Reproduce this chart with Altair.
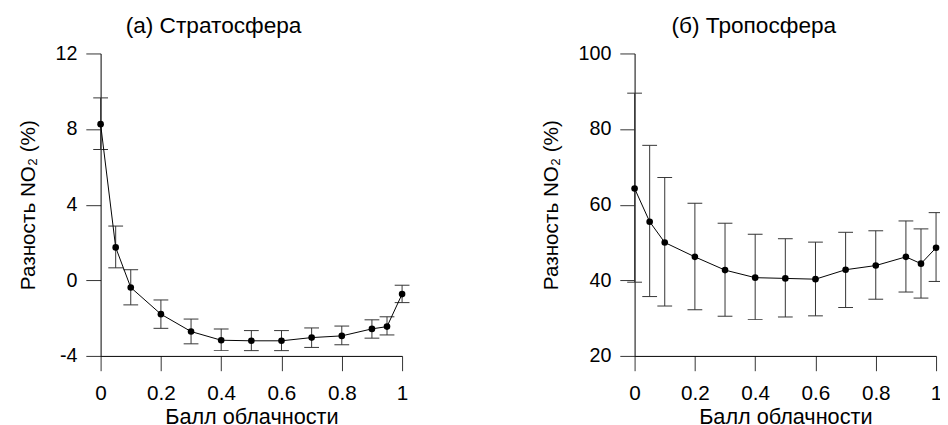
import altair as alt
import pandas as pd

# Cloud fraction (x) values
x_vals = [0, 0.05, 0.1, 0.2, 0.3, 0.4, 0.5, 0.6, 0.7, 0.8, 0.9, 0.95, 1.0]

# (a) Stratosphere: mean difference and error-bar limits (%)
strat_mean = [8.26, 1.74, -0.38, -1.79, -2.71, -3.17, -3.20, -3.20, -3.03, -2.94, -2.57, -2.45, -0.73]
strat_hi = [9.65, 2.87, 0.56, -1.04, -2.05, -2.57, -2.66, -2.66, -2.52, -2.42, -2.09, -1.93, -0.26]
strat_lo = [6.92, 0.66, -1.30, -2.54, -3.36, -3.72, -3.72, -3.72, -3.55, -3.41, -3.06, -2.89, -1.18]

# (б) Troposphere: mean difference and error-bar limits (%)
trop_mean = [64.3, 55.5, 50.0, 46.2, 42.7, 40.7, 40.5, 40.3, 42.8, 43.9, 46.2, 44.4, 48.6]
trop_hi = [89.5, 75.7, 67.2, 60.4, 55.1, 52.2, 51.0, 50.1, 52.7, 53.1, 55.7, 53.6, 57.9]
trop_lo = [39.5, 35.7, 33.2, 32.2, 30.5, 29.6, 30.3, 30.6, 32.8, 35.0, 36.9, 35.3, 39.7]

# Axis tick values
x_ticks = [0, 0.1, 0.2, 0.3, 0.4, 0.5, 0.6, 0.7, 0.8, 0.9, 1.0]
strat_yticks = [-4, -2, 0, 2, 4, 6, 8, 10, 12]
trop_yticks = [20, 30, 40, 50, 60, 70, 80, 90, 100]

FONT = "Liberation Sans"
INK = "#000000"
TICK = "#333333"


def panel(mean, lo, hi, title, ydom, yticks, step, title_dx):
    df = pd.DataFrame({"x": x_vals, "m": mean, "lo": lo, "hi": hi})
    xs = alt.Scale(domain=[0, 1], nice=False)
    ys = alt.Scale(domain=ydom, nice=False, zero=False)
    xaxis = alt.Axis(
        values=x_ticks,
        labelExpr="round(datum.value*10) % 2 === 0 ? format(datum.value, '~g') : ''",
        tickSize=15, labelPadding=12, titlePadding=4,
        labelFlush=False, labelOverlap=False, grid=False,
    )
    yaxis = alt.Axis(
        values=yticks,
        labelExpr=f"datum.value % {step} === 0 ? '' + datum.value : ''",
        tickSize={"condition": {"test": f"datum.value % {step} === 0", "value": 15}, "value": 7},
        labelPadding=9, titlePadding=17,
        labelFlush=False, labelOverlap=False, grid=False,
    )
    base = alt.Chart(df)
    bars = base.mark_rule(color=TICK, strokeWidth=1).encode(
        x=alt.X("x:Q", scale=xs, axis=xaxis, title="Балл облачности"),
        y=alt.Y("lo:Q", scale=ys, axis=yaxis, title="Разность NO₂ (%)"),
        y2="hi:Q",
    )
    cap_hi = base.mark_tick(orient="horizontal", size=15, thickness=1, color=TICK, opacity=1).encode(
        x="x:Q", y="hi:Q"
    )
    cap_lo = base.mark_tick(orient="horizontal", size=15, thickness=1, color=TICK, opacity=1).encode(
        x="x:Q", y="lo:Q"
    )
    line = base.mark_line(color=INK, strokeWidth=1).encode(x="x:Q", y="m:Q")
    pts = base.mark_point(filled=True, size=45, color=INK, opacity=1).encode(x="x:Q", y="m:Q")
    return alt.layer(bars, cap_hi, cap_lo, line, pts).properties(
        width=306, height=307,
        title=alt.Title(title, fontSize=23, fontWeight="normal", font=FONT, color=INK,
                        anchor="middle", frame="bounds", offset=6, dx=title_dx),
    )


left = panel(strat_mean, strat_lo, strat_hi, "(а) Стратосфера", [-4, 12], strat_yticks, 4, 0)
right = panel(trop_mean, trop_lo, trop_hi, "(б) Тропосфера", [20, 100], trop_yticks, 20, 12)

chart = alt.hconcat(left, right, spacing=132).properties(
    padding={"left": 9, "top": 4, "right": -4, "bottom": -4}
).configure_view(stroke=None).configure_axis(
    domainColor=INK, tickColor=TICK, labelFont=FONT, labelColor=INK,
    titleFont=FONT, titleFontWeight="normal", titleColor=INK,
).configure_axisX(labelFontSize=21, titleFontSize=22).configure_axisY(
    labelFontSize=20, titleFontSize=21
)

chart.save("out.html", embed_options={"renderer": "svg", "actions": False})
